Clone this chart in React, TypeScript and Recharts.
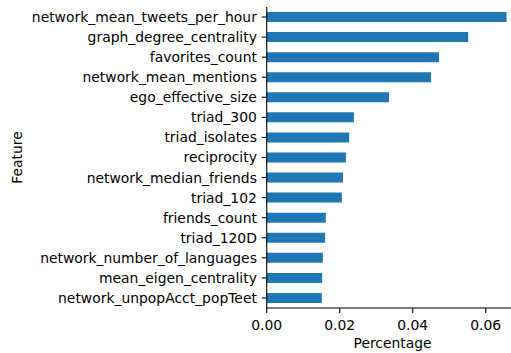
import React from "react";
import { BarChart, Bar, XAxis, YAxis, Label } from "recharts";

const features = [
  "network_mean_tweets_per_hour",
  "graph_degree_centrality",
  "favorites_count",
  "network_mean_mentions",
  "ego_effective_size",
  "triad_300",
  "triad_isolates",
  "reciprocity",
  "network_median_friends",
  "triad_102",
  "friends_count",
  "triad_120D",
  "network_number_of_languages",
  "mean_eigen_centrality",
  "network_unpopAcct_popTeet",
];

const importance = [
  0.0657, 0.0552, 0.0472, 0.045, 0.0335, 0.0239, 0.0226, 0.0217, 0.0209,
  0.0206, 0.0162, 0.016, 0.0154, 0.0152, 0.0151,
];

const xTicks = [0, 0.02, 0.04, 0.06];

const data = features.map((name, i) => ({ name, value: importance[i] }));

const FONT = "'DejaVu Sans', sans-serif";
const FS = 13.9;

export default function App() {
  return (
    <div
      style={{
        position: "absolute",
        left: 0,
        top: 0,
        width: 511,
        height: 353,
        overflow: "hidden",
        background: "#fff",
      }}
    >
      <BarChart
        width={520}
        height={353}
        data={data}
        layout="vertical"
        margin={{ top: 7, right: 1.4, bottom: 0, left: 0 }}
        barCategoryGap="25%"
        style={{ fontFamily: FONT }}
      >
        <XAxis
          type="number"
          domain={[0, 0.069]}
          ticks={xTicks}
          allowDataOverflow
          tickFormatter={(v: number) => v.toFixed(2)}
          tick={{ fill: "#000", fontSize: FS, fontFamily: FONT }}
          tickSize={4.9}
          tickMargin={7}
          axisLine={{ stroke: "#000", strokeWidth: 1.1 }}
          tickLine={{ stroke: "#000", strokeWidth: 1.1 }}
          height={45}
        >
          <Label
            content={() => (
              <text
                x={392.6}
                y={347.5}
                textAnchor="middle"
                fontSize={FS}
                fontFamily={FONT}
                fill="#000"
              >
                Percentage
              </text>
            )}
          />
        </XAxis>
        <XAxis
          xAxisId="top"
          orientation="top"
          type="number"
          domain={[0, 0.069]}
          tick={false}
          tickLine={false}
          height={0}
          axisLine={{ stroke: "#000", strokeWidth: 1.1 }}
        />
        <YAxis
          type="category"
          dataKey="name"
          width={266.7}
          interval={0}
          tick={{ fill: "#000", fontSize: FS, fontFamily: FONT }}
          tickSize={4.9}
          tickMargin={4.9}
          axisLine={{ stroke: "#000", strokeWidth: 1.1 }}
          tickLine={{ stroke: "#000", strokeWidth: 1.1 }}
        >
          <Label
            content={() => (
              <text
                x={22}
                y={157.5}
                textAnchor="middle"
                fontSize={FS}
                fontFamily={FONT}
                fill="#000"
                transform="rotate(-90 22 157.5)"
              >
                Feature
              </text>
            )}
          />
        </YAxis>
        <Bar dataKey="value" fill="#1f77b4" isAnimationActive={false} />
      </BarChart>
    </div>
  );
}
